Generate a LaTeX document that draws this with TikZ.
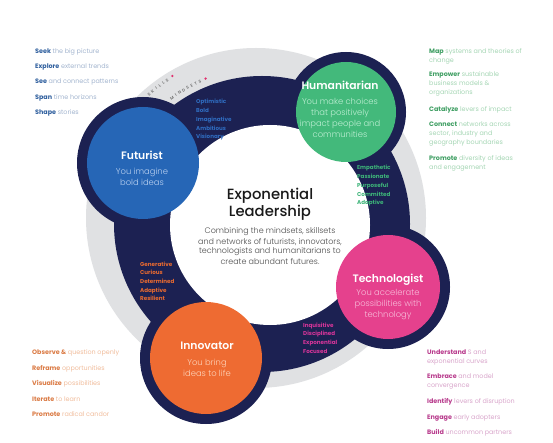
\documentclass[tikz,border=0pt]{standalone}
\usepackage{fontspec}
\setmainfont{Poppins}
\newfontfamily\poplight{Poppins Light}
\newfontfamily\popmed{Poppins Medium}
\newfontfamily\popsemi{Poppins SemiBold}
\definecolor{navy}{HTML}{1C2152}
\definecolor{ringgray}{HTML}{E0E1E3}
\definecolor{fblue}{HTML}{2666B6}
\definecolor{hgreen}{HTML}{43B97B}
\definecolor{tpink}{HTML}{E5418D}
\definecolor{iorange}{HTML}{EE6B32}
\definecolor{fbluelt}{HTML}{B9D0F0}
\definecolor{hgreenlt}{HTML}{BDEED3}
\definecolor{tpinklt}{HTML}{F7BCD9}
\definecolor{iorangelt}{HTML}{FDD2B8}
\definecolor{mblue}{HTML}{2F6CC0}
\definecolor{mgreen}{HTML}{3DB479}
\definecolor{morange}{HTML}{E86A30}
\definecolor{mpink}{HTML}{D8359A}
\definecolor{bdark}{HTML}{2F5F9E}
\definecolor{blight}{HTML}{A3B5CF}
\definecolor{gdark}{HTML}{3E9E62}
\definecolor{glight}{HTML}{A5D6B4}
\definecolor{odark}{HTML}{DB7B45}
\definecolor{olight}{HTML}{F1BD9C}
\definecolor{pdark}{HTML}{B83A8C}
\definecolor{plight}{HTML}{D9A5CB}
\definecolor{dotpink}{HTML}{E0306E}
\definecolor{curvgray}{HTML}{707070}
\definecolor{bodygray}{HTML}{4D4D4D}
\newcommand\cblock[1]{\vtop{\halign{\hfil##\hfil\cr#1\crcr}}}
\newcommand\lblock[1]{\vtop{\halign{##\hfil\cr#1\crcr}}}
\newcommand\kw[2]{{\bfseries\color{#1}#2}}
\tikzset{
  skill/.style={font=\fontsize{6.4}{9}\selectfont, inner sep=0pt, anchor=base west},
  mind/.style={font=\fontsize{5.6}{8.7}\selectfont\bfseries, inner sep=0pt, anchor=base west},
  ctitle/.style={font=\fontsize{10.8}{13}\selectfont\popsemi, text=white, inner sep=0pt, anchor=base},
  csub/.style={font=\fontsize{8.4}{11}\selectfont\poplight, inner sep=0pt, anchor=base},
  curv/.style={font=\fontsize{4.1}{5}\selectfont\popsemi, text=curvgray, inner sep=0pt},
  dot/.style={circle, fill=dotpink, inner sep=0pt, minimum size=2.6pt},
  bigc/.style={circle, inner sep=0pt}
}
\begin{document}
\begin{tikzpicture}[x=1pt,y=-1pt]
\useasboundingbox (0,0) rectangle (553,443);
\fill[white] (0,0) rectangle (553,443);
% rings
\fill[ringgray] (256,218) circle (170);
\fill[navy] (262,224) circle (148);
\fill[navy] (143,163) circle (66);
\fill[navy] (346,112) circle (60);
\fill[navy] (388,287) circle (62);
\fill[navy] (206,358) circle (66);
\node[bigc, fill=white, minimum size=200pt] (core) at (270,225) {};
% coloured circles
\node[bigc, fill=fblue, minimum size=112pt] (futurist) at (143,163) {};
\node[bigc, fill=hgreen, minimum size=100pt] (humanitarian) at (346,112) {};
\node[bigc, fill=tpink, minimum size=104pt] (technologist) at (388,287) {};
\node[bigc, fill=iorange, minimum size=112pt] (innovator) at (206,358) {};
% circle texts
\node[ctitle] (ft) at (142,160) {Futurist};
\node[csub, text=fbluelt] (fs) at (142,175) {\cblock{You imagine\cr bold ideas}};
\node[ctitle] (ht) at (340,90) {Humanitarian};
\node[csub, text=hgreenlt] (hs) at (340,105) {\cblock{You make choices\cr that positively\cr impact people and\cr communities}};
\node[ctitle] (tt) at (388,282) {Technologist};
\node[csub, text=tpinklt] (ts) at (388,295) {\cblock{You accelerate\cr possibilities with\cr technology}};
\node[ctitle] (it) at (207,349) {Innovator};
\node[csub, text=iorangelt] (is) at (207,365) {\cblock{You bring\cr ideas to life}};
% centre text
\node[font=\fontsize{14.8}{17}\selectfont\popmed, text=black!90, inner sep=0pt, anchor=base] (title) at (270,200) {\cblock{Exponential\cr Leadership}};
\node[font=\fontsize{8}{10}\selectfont\poplight, text=bodygray, inner sep=0pt, anchor=base] (body) at (270,234) {\cblock{Combining the mindsets, skillsets\cr and networks of futurists, innovators,\cr technologists and humanitarians to\cr create abundant futures.}};
% mindsets
\node[mind, text=mblue] (fm) at (196,104) {\lblock{Optimistic\cr Bold\cr Imaginative\cr Ambitious\cr Visionary}};
\node[mind, text=mgreen] (hm) at (357,170) {\lblock{Empathetic\cr Passionate\cr Purposeful\cr Committed\cr Adaptive}};
\node[mind, text=morange] (im) at (140,266) {\lblock{Generative\cr Curious\cr Determined\cr Adaptive\cr Resilient}};
\node[mind, text=mpink] (tm) at (303,327) {\lblock{Inquisitive\cr Disciplined\cr Exponential\cr Focused}};
% curved labels
\foreach \ch [count=\i from 0] in {S,K,I,L,L,S}
  \node[curv, rotate={131-\i*1.5-90}] (sk\i) at ({262+172*cos(131-\i*1.5)},{224-172*sin(131-\i*1.5)}) {\ch};
\foreach \ch [count=\i from 0] in {M,I,N,D,S,E,T,S}
  \node[curv, rotate={125.5-\i*1.7-90}] (mi\i) at ({262+155*cos(125.5-\i*1.7)},{224-155*sin(125.5-\i*1.7)}) {\ch};
\node[dot] (skdot) at ({262+173*cos(121.2)},{224-173*sin(121.2)}) {};
\node[dot] (midot) at ({262+156*cos(111.2)},{224-156*sin(111.2)}) {};
% futurist skills
\node[skill, text=blight] (f1) at (35,53.5) {\kw{bdark}{Seek} the big picture};
\node[skill, text=blight] (f2) at (35,68.5) {\kw{bdark}{Explore} external trends};
\node[skill, text=blight] (f3) at (35,84) {\kw{bdark}{See} and connect patterns};
\node[skill, text=blight] (f4) at (35,99.5) {\kw{bdark}{Span} time horizons};
\node[skill, text=blight] (f5) at (35,115) {\kw{bdark}{Shape} stories};
% humanitarian skills
\node[skill, text=glight] (h1) at (429,53.5) {\lblock{\kw{gdark}{Map} systems and theories of\cr change}};
\node[skill, text=glight] (h2) at (429,76.5) {\lblock{\kw{gdark}{Empower} sustainable\cr business models \&\cr organizations}};
\node[skill, text=glight] (h3) at (429,111.5) {\kw{gdark}{Catalyze} levers of impact};
\node[skill, text=glight] (h4) at (429,126.5) {\lblock{\kw{gdark}{Connect} networks across\cr sector, industry and\cr geography boundaries}};
\node[skill, text=glight] (h5) at (429,160.5) {\lblock{\kw{gdark}{Promote} diversity of ideas\cr and engagement}};
% innovator skills
\node[skill, text=olight] (i1) at (32,354.5) {\kw{odark}{Observe \&} question openly};
\node[skill, text=olight] (i2) at (32,370.5) {\kw{odark}{Reframe} opportunities};
\node[skill, text=olight] (i3) at (32,385.5) {\kw{odark}{Visualize} possibilities};
\node[skill, text=olight] (i4) at (32,401.5) {\kw{odark}{Iterate} to learn};
\node[skill, text=olight] (i5) at (32,416.5) {\kw{odark}{Promote} radical candor};
% technologist skills
\node[skill, text=plight] (t1) at (427,354.5) {\lblock{\kw{pdark}{Understand} S and\cr exponential curves}};
\node[skill, text=plight] (t2) at (427,378.5) {\lblock{\kw{pdark}{Embrace} and model\cr convergence}};
\node[skill, text=plight] (t3) at (427,403.5) {\kw{pdark}{Identify} levers of disruption};
\node[skill, text=plight] (t4) at (427,419.5) {\kw{pdark}{Engage} early adopters};
\node[skill, text=plight] (t5) at (427,434.5) {\kw{pdark}{Build} uncommon partners};
\end{tikzpicture}
\end{document}
